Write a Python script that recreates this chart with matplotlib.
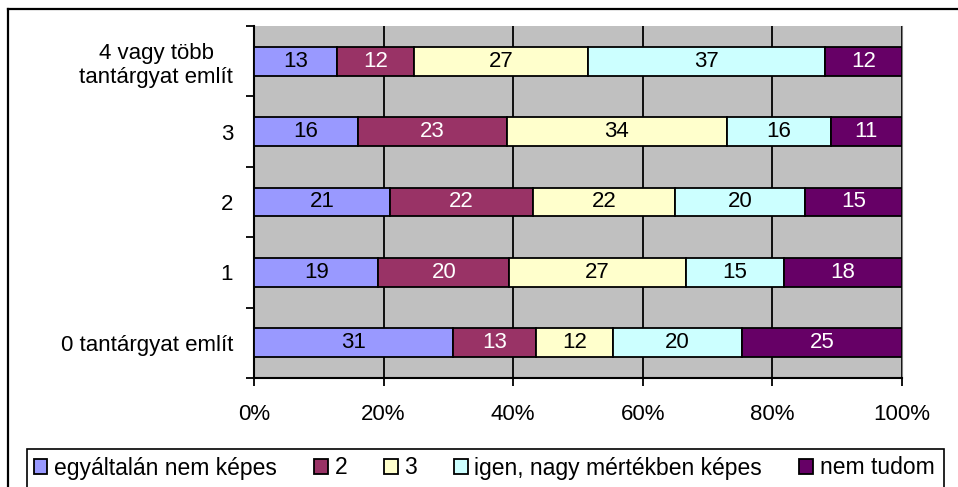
import matplotlib
matplotlib.use("Agg")
import matplotlib.pyplot as plt
from matplotlib.patches import Rectangle
from matplotlib.lines import Line2D
import numpy as np

plt.rcParams['font.family'] = ['Liberation Sans', 'DejaVu Sans']

categories = ["0 tantárgyat említ", "1", "2", "3", "4 vagy több\ntantárgyat említ"]
series_names = ["egyáltalán nem képes", "2", "3", "igen, nagy mértékben képes", "nem tudom"]
values = {
    "egyáltalán nem képes": [31, 19, 21, 16, 13],
    "2": [13, 20, 22, 23, 12],
    "3": [12, 27, 22, 34, 27],
    "igen, nagy mértékben képes": [20, 15, 20, 16, 37],
    "nem tudom": [25, 18, 15, 11, 12],
}
colors = ["#9999FF", "#993366", "#FFFFCC", "#CCFFFF", "#660066"]
text_colors = ["black", "white", "black", "black", "white"]
xticks = [0, 20, 40, 60, 80, 100]
xticklabels = ["0%", "20%", "40%", "60%", "80%", "100%"]

FS = 16
W, H = 958, 487
fig = plt.figure(figsize=(W / 100, H / 100), dpi=100)
ax = fig.add_axes([254 / W, 1 - 378 / H, (902 - 254) / W, (378 - 26) / H])
ax.set_facecolor("#C0C0C0")

data = np.array([values[s] for s in series_names], dtype=float)
totals = data.sum(axis=0)
pct = data / totals * 100
y = np.arange(len(categories))
left = np.zeros(len(categories))
handles = []
for i, s in enumerate(series_names):
    bars = ax.barh(y, pct[i], left=left, height=0.41, color=colors[i],
                   edgecolor="black", linewidth=1.3, label=s, zorder=3)
    for j, b in enumerate(bars):
        ax.text(left[j] + pct[i][j] / 2, y[j], f"{int(data[i][j])}",
                ha="center", va="center", fontsize=FS, color=text_colors[i], zorder=4)
    left += pct[i]
    handles.append(bars)

ax.set_xlim(0, 100)
ax.set_ylim(-0.5, len(categories) - 0.5)
ax.set_xticks(xticks)
ax.set_xticklabels(xticklabels, fontsize=FS)
ax.set_yticks(y)
ax.set_yticklabels(categories, fontsize=FS)
for lbl in ax.get_yticklabels():
    lbl.set_multialignment("center")
ax.set_yticks(np.arange(-0.5, len(categories), 1.0), minor=True)
ax.tick_params(axis="y", which="major", length=0, pad=15)
ax.tick_params(axis="y", which="minor", length=6, width=1.3, direction="out", color="black")
ax.tick_params(axis="x", which="major", length=6, width=1.3, direction="out", pad=13)
ax.grid(axis="x", color="black", linewidth=1.3, zorder=1)
ax.set_axisbelow(True)
ax.spines["top"].set_visible(False)
ax.spines["right"].set_color("#808080")
ax.spines["left"].set_linewidth(1.5)
ax.spines["bottom"].set_linewidth(1.5)

# outer chart border (cut off at right and bottom)
fig.add_artist(Line2D([8 / W, 1.02], [1 - 9 / H, 1 - 9 / H], color="black", lw=1.6, transform=fig.transFigure))
fig.add_artist(Line2D([8 / W, 8 / W], [1 - 9 / H, -0.02], color="black", lw=1.6, transform=fig.transFigure))

# legend box (extends below image)
fig.add_artist(Rectangle((27 / W, -0.05), (944 - 27) / W, 0.05 + 1 - 449 / H, fill=False,
                         edgecolor="black", lw=1.2, transform=fig.transFigure))
leg = fig.legend(handles=handles, labels=series_names, loc="center",
                 bbox_to_anchor=(484 / W, 1 - 468 / H), ncol=5, frameon=False,
                 fontsize=16.5, handlelength=0.6, handleheight=0.6, handletextpad=0.3,
                 columnspacing=1.6, borderpad=0)

fig.savefig("out.png", dpi=100)
